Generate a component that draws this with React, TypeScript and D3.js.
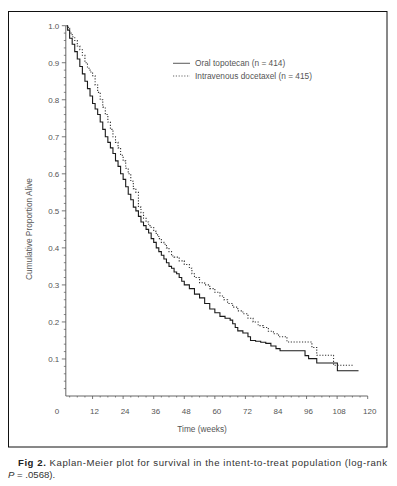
import React from 'react';
import * as d3 from 'd3';

// Kaplan-Meier steps (weeks, proportion alive)
const topoTimes = [1.8, 2.2, 3, 4, 5, 6, 7, 8, 9, 10, 11, 12, 13, 14, 15, 16, 17, 18, 19, 20, 21, 22, 23, 24, 25, 26, 27, 28, 29, 30, 31, 32, 33, 34, 35, 36, 37, 38, 39, 40, 41, 42, 43, 44, 45, 46, 47, 48, 50, 52, 54, 56, 58, 60, 62, 64, 66, 67, 68, 69, 71, 73, 74, 76, 78, 80, 82, 84, 85.6, 95.4, 96.8, 100, 108.1, 116.4];
const topoSurv = [1.0, 0.988, 0.966, 0.95, 0.93, 0.91, 0.89, 0.87, 0.85, 0.83, 0.81, 0.79, 0.775, 0.76, 0.74, 0.72, 0.70, 0.685, 0.67, 0.655, 0.635, 0.62, 0.60, 0.585, 0.565, 0.545, 0.53, 0.51, 0.50, 0.485, 0.47, 0.46, 0.45, 0.44, 0.425, 0.415, 0.40, 0.39, 0.38, 0.37, 0.36, 0.35, 0.345, 0.335, 0.33, 0.32, 0.31, 0.30, 0.29, 0.275, 0.265, 0.25, 0.235, 0.225, 0.215, 0.21, 0.205, 0.195, 0.185, 0.176, 0.17, 0.16, 0.15, 0.148, 0.145, 0.142, 0.135, 0.128, 0.122, 0.109, 0.101, 0.089, 0.068, 0.068];

const doceTimes = [1.8, 2.5, 3, 4, 5, 6, 7, 8, 9, 10, 11, 12, 13, 14, 15, 16, 17, 18, 19, 20, 21, 22, 23, 24, 25, 26, 27, 28, 29, 30, 31, 32, 33, 34, 35, 36, 37, 38, 39, 40, 41, 42, 43, 44, 46, 48, 50, 51, 52, 54, 56, 58, 60, 62, 63.5, 65, 67, 69, 71, 73, 75, 77, 79, 81, 83, 85, 88.3, 98.1, 100, 106.6, 114.4];
const doceSurv = [1.0, 0.993, 0.98, 0.97, 0.96, 0.945, 0.935, 0.92, 0.90, 0.885, 0.875, 0.865, 0.84, 0.82, 0.80, 0.78, 0.76, 0.74, 0.72, 0.70, 0.685, 0.67, 0.65, 0.635, 0.615, 0.60, 0.58, 0.56, 0.55, 0.51, 0.495, 0.48, 0.47, 0.46, 0.455, 0.445, 0.435, 0.425, 0.415, 0.41, 0.40, 0.39, 0.378, 0.375, 0.365, 0.355, 0.345, 0.33, 0.32, 0.306, 0.30, 0.29, 0.28, 0.27, 0.26, 0.25, 0.24, 0.23, 0.222, 0.21, 0.20, 0.19, 0.185, 0.175, 0.168, 0.16, 0.146, 0.131, 0.11, 0.083, 0.083];

const seriesNames = ['Oral topotecan (n = 414)', 'Intravenous docetaxel (n = 415)'];
const xTickValues = [12, 24, 36, 48, 60, 72, 84, 96, 108, 120];
const yTickValues = [0.1, 0.2, 0.3, 0.4, 0.5, 0.6, 0.7, 0.8, 0.9, 1.0];

const W = 397;
const H = 486;
const FONT = '"Liberation Sans", Arial, sans-serif';
const axisStart = 1.5;

export default function App() {
  const x = d3.scaleLinear().domain([0, 120]).range([62, 367.7]);
  const y = d3.scaleLinear().domain([0, 1]).range([396, 25.7]);

  const line = d3.line<[number, number]>()
    .x(d => x(d[0]))
    .y(d => y(d[1]))
    .curve(d3.curveStepAfter);

  const topo = topoTimes.map((t, i) => [t, topoSurv[i]] as [number, number]);
  const doce = doceTimes.map((t, i) => [t, doceSurv[i]] as [number, number]);

  const xMinor = d3.range(3, 120, 3).filter(v => v % 12 !== 0);
  const yMinor = d3.range(1, 50).map(i => i * 0.02).filter(v => Math.abs(v * 10 - Math.round(v * 10)) > 0.01);

  const x0 = x(axisStart);
  const yBase = y(0);
  const axisColor = '#555';
  const textColor = '#555';

  return (
    <svg width={W} height={H} style={{position: 'absolute', left: 0, top: 0}} fontFamily={FONT}>
      <rect x={0} y={0} width={W} height={H} fill="#fff"/>
      {/* frame */}
      <rect x={8.5} y={11.5} width={378.5} height={435.5} fill="none" stroke="#111" strokeWidth={1}/>

      {/* y axis */}
      <line x1={x0} x2={x0} y1={y(1)} y2={yBase} stroke={axisColor} strokeWidth={0.9}/>
      {yMinor.map(v => (
        <line key={'ym' + v} x1={x0 - 2} x2={x0} y1={y(v)} y2={y(v)} stroke={axisColor} strokeWidth={0.7}/>
      ))}
      {yTickValues.map(v => (
        <g key={'y' + v}>
          <line x1={x0 - 4} x2={x0} y1={y(v)} y2={y(v)} stroke={axisColor} strokeWidth={0.8}/>
          <text x={x0 - 6.5} y={y(v)} dy="0.35em" textAnchor="end" fontSize={8} fill={textColor}>{v.toFixed(1)}</text>
        </g>
      ))}
      <text transform={`translate(${29},${229}) rotate(-90)`} textAnchor="middle" dy="0.35em" fontSize={8.3} fill={textColor}>
        Cumulative Proportion Alive
      </text>

      {/* x axis */}
      <line x1={x0} x2={x(120)} y1={yBase} y2={yBase} stroke={axisColor} strokeWidth={0.9}/>
      {xMinor.map(v => (
        <line key={'xm' + v} x1={x(v)} x2={x(v)} y1={yBase} y2={yBase + 1.5} stroke={axisColor} strokeWidth={0.7}/>
      ))}
      {xTickValues.map(v => (
        <g key={'x' + v}>
          <line x1={x(v)} x2={x(v)} y1={yBase} y2={yBase + 3} stroke={axisColor} strokeWidth={0.8}/>
          <text x={x(v) + 2} y={411.5} dy="0.35em" textAnchor="middle" fontSize={8} fill={textColor}>{v}</text>
        </g>
      ))}
      <text x={x(0) - 5} y={411.5} dy="0.35em" textAnchor="middle" fontSize={8} fill={textColor}>0</text>
      <text x={x(55)} y={429.5} dy="0.35em" textAnchor="middle" fontSize={8.3} fill={textColor}>Time (weeks)</text>

      {/* curves */}
      <path d={line(topo) ?? ''} fill="none" stroke="#1a1a1a" strokeWidth={1.1}/>
      <path d={line(doce) ?? ''} fill="none" stroke="#333" strokeWidth={1.1} strokeDasharray="1.2,1.6"/>

      {/* legend */}
      <line x1={173} x2={190} y1={63.3} y2={63.3} stroke="#666" strokeWidth={1.1}/>
      <text x={195} y={63.3} dy="0.35em" fontSize={8.3} fill={textColor}>{seriesNames[0]}</text>
      <line x1={173} x2={190} y1={76} y2={76} stroke="#666" strokeWidth={1.1} strokeDasharray="1.2,1.6"/>
      <text x={195} y={76} dy="0.35em" fontSize={8.3} fill={textColor}>{seriesNames[1]}</text>

      {/* caption */}
      <text x={18} y={466} fontSize={9.6} fill="#333" textLength={369} lengthAdjust="spacing">
        <tspan fontWeight="bold" fill="#222">Fig 2.</tspan>
        <tspan> Kaplan-Meier plot for survival in the intent-to-treat population (log-rank</tspan>
      </text>
      <text x={8} y={478} fontSize={9.6} fill="#333">
        <tspan fontStyle="italic">P</tspan>
        <tspan> = .0568).</tspan>
      </text>
    </svg>
  );
}
